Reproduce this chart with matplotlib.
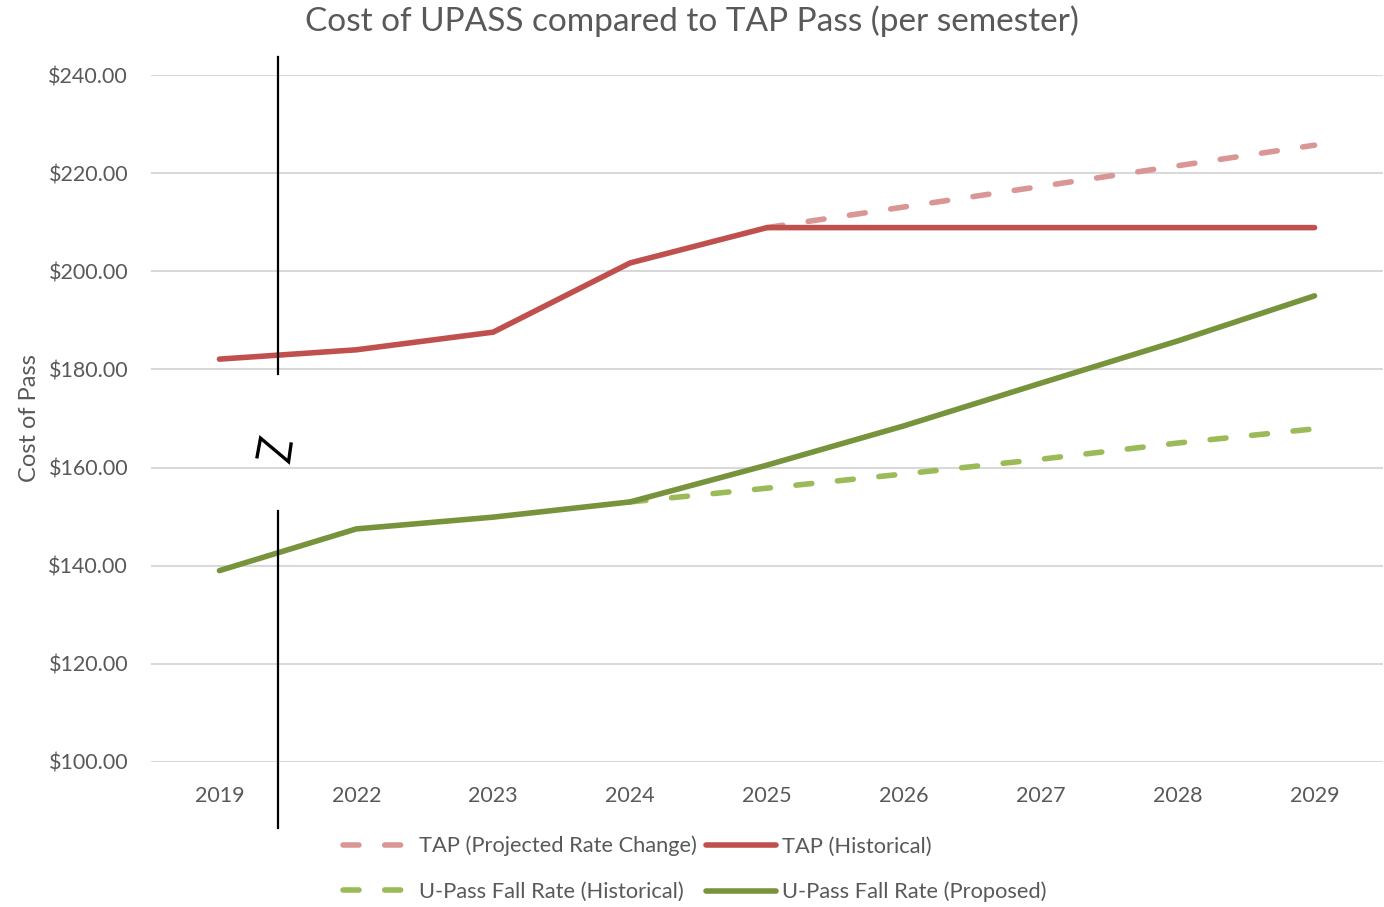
import numpy as np
import matplotlib
matplotlib.use("Agg")
import matplotlib.pyplot as plt

plt.rcParams['font.family'] = ['Lato', 'DejaVu Sans']
plt.rcParams['lines.scale_dashes'] = False

# Data
years = ['2019', '2022', '2023', '2024', '2025', '2026', '2027', '2028', '2029']
tap_historical = [182.1, 184.0, 187.6, 201.7, 208.9, 208.9, 208.9, 208.9, 208.9]
tap_projected = [np.nan, np.nan, np.nan, np.nan, 208.9, 213.1, 217.3, 221.5, 225.7]
upass_historical = [np.nan, np.nan, np.nan, 153.0, 155.8, 158.7, 161.7, 165.0, 167.9]
upass_proposed = [139.0, 147.5, 149.9, 153.0, 160.5, 168.5, 177.2, 185.8, 195.0]

y_ticks = [100, 120, 140, 160, 180, 200, 220, 240]

# Colours
red = '#C0504D'
red_light = '#DA9694'
green = '#77933C'
green_light = '#9BBB59'
text_grey = '#595959'

x = np.arange(len(years))
lw = 4.0
dash = (11.5, 18.5)

fig = plt.figure(figsize=(13.84, 9.07), dpi=100)
ax = fig.add_axes([151 / 1384, 1 - 762 / 907, (1383 - 151) / 1384, (762 - 75) / 907])

l_proj, = ax.plot(x, tap_projected, color=red_light, lw=lw, dashes=dash,
                  dash_capstyle='round', solid_capstyle='round', zorder=3)
l_hist, = ax.plot(x, tap_historical, color=red, lw=lw, solid_capstyle='round', zorder=4)
l_uhist, = ax.plot(x, upass_historical, color=green_light, lw=lw, dashes=dash,
                   dash_capstyle='round', solid_capstyle='round', zorder=3)
l_uprop, = ax.plot(x, upass_proposed, color=green, lw=lw, solid_capstyle='round', zorder=4)

ax.set_xlim(-0.5, len(years) - 0.5)
ax.set_ylim(100, 240)
ax.set_xticks(x)
ax.set_xticklabels(years)
ax.set_yticks(y_ticks)
ax.set_yticklabels(['${:.2f}'.format(v) for v in y_ticks])
ax.tick_params(axis='both', length=0, colors=text_grey, labelsize=15.5)
ax.tick_params(axis='x', pad=17.5)
ax.tick_params(axis='y', pad=16.5)
ax.grid(axis='y', color='#D9D9D9', lw=1.5)
ax.set_axisbelow(True)
for side in ['top', 'right', 'left', 'bottom']:
    ax.spines[side].set_visible(False)

ax.set_ylabel('Cost of Pass', color=text_grey, fontsize=17, labelpad=6)
fig.suptitle('Cost of UPASS compared to TAP Pass (per semester)', color=text_grey,
             fontsize=24, y=1 - 21 / 907, va='center')

# axis-break marker between 2019 and 2022
brk = 0.43
ax.plot([brk, brk], [243.7, 179.1], color='black', lw=1.6, clip_on=False, zorder=5)
ax.plot([brk, brk], [151.1, 86.5], color='black', lw=1.6, clip_on=False, zorder=5)
ax.plot([brk - 0.155, brk - 0.13, brk + 0.075, brk + 0.093],
        [162.2, 166.0, 161.2, 164.8], color='black', lw=2.4,
        solid_joinstyle='miter', zorder=5)

handles = [l_proj, l_uhist, l_hist, l_uprop]
labels = ['TAP (Projected Rate Change)', 'U-Pass Fall Rate (Historical)',
          'TAP (Historical)', 'U-Pass Fall Rate (Proposed)']
leg = fig.legend(handles, labels, ncol=2, loc='center', bbox_to_anchor=(0.502, 1 - 869 / 907),
                 frameon=False, fontsize=15.75, handlelength=3.2, handletextpad=0.3,
                 columnspacing=0.4, labelspacing=1.15)
for t in leg.get_texts():
    t.set_color(text_grey)

fig.savefig('out.png', dpi=100)
